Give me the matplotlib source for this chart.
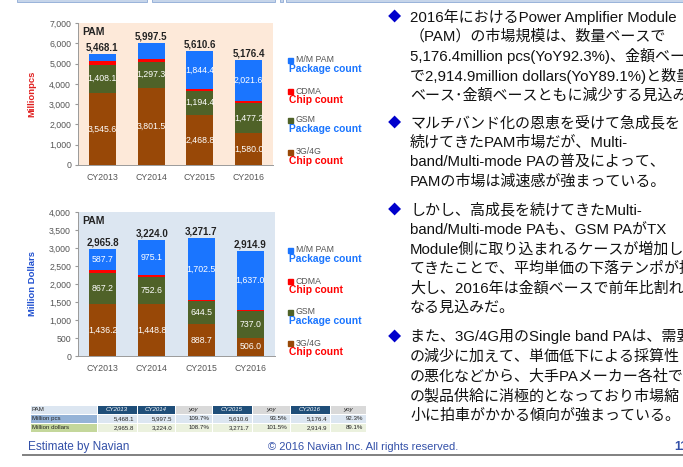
import matplotlib.pyplot as plt
from matplotlib.patches import Rectangle

plt.rcParams['font.family'] = ['Liberation Sans', 'DejaVu Sans']
JP = ['Noto Sans CJK JP', 'DejaVu Sans']
JP_TEXT = ['Liberation Sans', 'Noto Sans CJK JP', 'DejaVu Sans']

# data
years = ['CY2013', 'CY2014', 'CY2015', 'CY2016']
series = ['3G/4G', 'GSM', 'CDMA', 'M/M PAM']
colors = ['#984807', '#4f6228', '#ff0000', '#1a75ff']

pcs_3g4g = [3545.6, 3801.5, 2468.8, 1580.0]
pcs_gsm = [1408.1, 1297.3, 1194.4, 1477.2]
pcs_cdma = [190.0, 120.0, 103.0, 97.6]
pcs_mm = [324.4, 778.7, 1844.4, 2021.6]
pcs_total = [5468.1, 5997.5, 5610.6, 5176.4]

usd_3g4g = [1436.2, 1448.8, 888.7, 506.0]
usd_gsm = [867.2, 752.6, 644.5, 737.0]
usd_cdma = [74.7, 47.5, 36.0, 34.9]
usd_mm = [587.7, 975.1, 1702.5, 1637.0]
usd_total = [2965.8, 3224.0, 3271.7, 2914.9]

tbl_head = ['PAM', 'CY2013', 'CY2014', 'yoy', 'CY2015', 'yoy', 'CY2016', 'yoy']
tbl_pcs = ['Million pcs', '5,468.1', '5,997.5', '109.7%', '5,610.6', '93.5%', '5,176.4', '92.3%']
tbl_usd = ['Million dollars', '2,965.8', '3,224.0', '108.7%', '3,271.7', '101.5%', '2,914.9', '89.1%']

bullets = [
    ['2016年におけるPower Amplifier Module',
     '（PAM）の市場規模は、数量ベースで',
     '5,176.4million pcs(YoY92.3%)、金額ベース',
     'で2,914.9million dollars(YoY89.1%)と数量',
     'ベース･金額ベースともに減少する見込み'],
    ['マルチバンド化の恩恵を受けて急成長を',
     '続けてきたPAM市場だが、Multi-',
     'band/Multi-mode PAの普及によって、',
     'PAMの市場は減速感が強まっている。'],
    ['しかし、高成長を続けてきたMulti-',
     'band/Multi-mode PAも、GSM PAがTX',
     'Module側に取り込まれるケースが増加し',
     'てきたことで、平均単価の下落テンポが拡',
     '大し、2016年は金額ベースで前年比割れと',
     'なる見込みだ。'],
    ['また、3G/4G用のSingle band PAは、需要',
     'の減少に加えて、単価低下による採算性',
     'の悪化などから、大手PAメーカー各社で',
     'の製品供給に消極的となっており市場縮',
     '小に拍車がかかる傾向が強まっている。'],
]
bullet_y = [17, 123, 210, 337]

W, H = 683, 467
fig = plt.figure(figsize=(W / 100, H / 100), dpi=100)

# overlay in pixel coordinates for page decorations
ov = fig.add_axes([0, 0, 1, 1])
ov.set_xlim(0, W)
ov.set_ylim(H, 0)
ov.axis('off')

for x0, x1 in [(17, 147), (152, 275), (280, 283), (286, 683)]:
    ov.add_patch(Rectangle((x0, -1), x1 - x0, 3, facecolor='#c6d5ea', edgecolor='#8eaad6', lw=0.6))


def chart(rect, stacks, total, ymax, step, bg, ylabel, ycolor, label_mm):
    ax = fig.add_axes(rect)
    ax.set_facecolor(bg)
    x = range(len(years))
    bottom = [0] * len(years)
    for vals, c, name in zip(stacks, colors, series):
        ax.bar(x, vals, 0.55, bottom=bottom, color=c, zorder=2)
        for i, v in enumerate(vals):
            show = name in ('3G/4G', 'GSM') or (name == 'M/M PAM' and label_mm[i])
            if show:
                ax.text(i, bottom[i] + v / 2, f'{v:,.1f}', ha='center', va='center',
                        color='white', fontsize=6.3, zorder=3)
        bottom = [b + v for b, v in zip(bottom, vals)]
    for i, t in enumerate(total):
        ax.text(i, t + ymax * 0.012, f'{t:,.1f}', ha='center', va='bottom',
                fontsize=7, fontweight='bold', color='#222222')
    ax.set_xlim(-0.5, 3.5)
    ax.set_ylim(0, ymax)
    ax.set_yticks(range(0, ymax + 1, step))
    ax.set_yticklabels([f'{v:,}' for v in range(0, ymax + 1, step)])
    ax.set_xticks(list(x))
    ax.set_xticklabels(years)
    ax.tick_params(axis='both', labelsize=6.3, colors='#555555', length=0, pad=6)
    ax.tick_params(axis='y', length=2, pad=3, color='#999999')
    for s in ['top', 'right']:
        ax.spines[s].set_visible(False)
    for s in ['left', 'bottom']:
        ax.spines[s].set_color('#9a9a9a')
        ax.spines[s].set_linewidth(0.7)
    ax.text(0.02, 0.97, 'PAM', transform=ax.transAxes, ha='left', va='top',
            fontsize=7.5, fontweight='bold', color='#222222')
    ax.set_ylabel(ylabel, color=ycolor, fontsize=6.8, labelpad=9, fontweight='bold')
    return ax


chart([78 / W, 1 - 165 / H, 195 / W, 142 / H],
      [pcs_3g4g, pcs_gsm, pcs_cdma, pcs_mm], pcs_total, 7000, 1000,
      '#fde9d9', 'Millionpcs', '#e02020', [False, False, True, True])
chart([78 / W, 1 - 356 / H, 197 / W, 144 / H],
      [usd_3g4g, usd_gsm, usd_cdma, usd_mm], usd_total, 4000, 500,
      '#dce6f1', 'Million Dollars', '#2050d0', [True, True, True, True])

# custom legends
leg_sub = [('Package count', '#1a75ff'), ('Chip count', '#ff0000'),
           ('Package count', '#1a75ff'), ('Chip count', '#ff0000')]
leg_names = ['M/M PAM', 'CDMA', 'GSM', '3G/4G']
leg_cols = ['#1a75ff', '#ff0000', '#4f6228', '#984807']
for ys in ([60, 91, 120, 152], [250, 281, 312, 343]):
    for y, n, c, (sub, sc) in zip(ys, leg_names, leg_cols, leg_sub):
        ov.add_patch(Rectangle((288, y - 2.5), 5, 5, color=c))
        ov.text(296, y, n, fontsize=6.3, color='#555555', va='center')
        ov.text(289, y + 9, sub, fontsize=7.4, color=sc, va='center', fontweight='bold')

# summary table
col_x = [30, 97, 137, 175, 212, 252, 290, 330, 366]
row_y = [405, 414, 423, 432]
head_fill = ['#dce6f1', '#1f4e79', '#1f4e79', '#d9d9d9', '#1f4e79', '#d9d9d9', '#1f4e79', '#d9d9d9']
for r, (row, fills) in enumerate([(tbl_head, head_fill),
                                  (tbl_pcs, ['#95b3d7'] + ['#dce6f1'] * 7),
                                  (tbl_usd, ['#c4d79b'] + ['#ebf1de'] * 7)]):
    for c, txt in enumerate(row):
        x0, x1 = col_x[c], col_x[c + 1]
        y0, y1 = row_y[r], row_y[r + 1]
        ov.add_patch(Rectangle((x0 + 0.5, y0 + 0.5), x1 - x0 - 1, y1 - y0 - 1,
                               facecolor=fills[c], edgecolor='none'))
        tc = 'white' if fills[c] == '#1f4e79' else '#222222'
        if c == 0:
            ov.text(x0 + 2, (y0 + y1) / 2, txt, fontsize=4.4, color=tc, va='center')
        elif r == 0:
            ov.text((x0 + x1) / 2, (y0 + y1) / 2, txt, fontsize=4.4, color=tc,
                    va='center', ha='center', style='italic')
        else:
            ov.text(x1 - 3, (y0 + y1) / 2, txt, fontsize=4.4, color=tc, va='center', ha='right')

# bullet text
for y0, lines in zip(bullet_y, bullets):
    ov.text(394, y0, '◆', fontsize=9.5, color='#0000cc', va='center', ha='center', family=JP)
    for k, line in enumerate(lines):
        ov.text(410, y0 + k * 19.6, line, fontsize=10.8, color='#111111', va='center',
                family=JP_TEXT)

# footer
ov.plot([23, W], [455, 455], color='#808080', lw=1.4)
ov.text(28, 447, 'Estimate by Navian', fontsize=8.5, color='#3350a8', va='center')
ov.text(268, 447, '© 2016 Navian Inc. All rights reserved.', fontsize=8, color='#3350a8', va='center')
ov.text(674, 447, '11', fontsize=9, color='#3350a8', va='center', fontweight='bold')

fig.savefig('out.png', dpi=100)
